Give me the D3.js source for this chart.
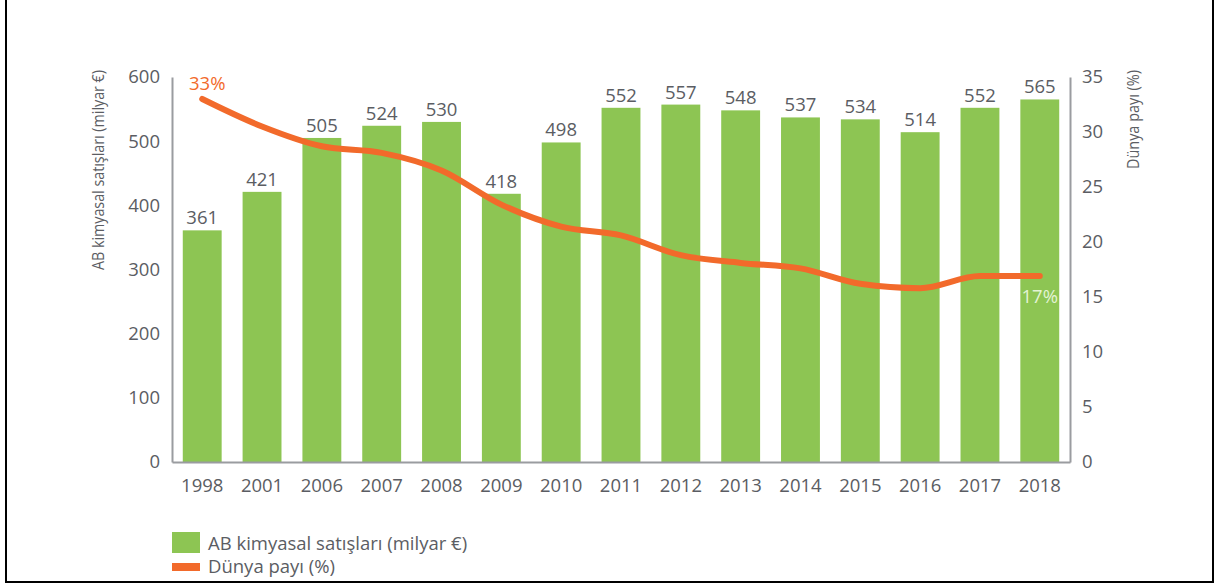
<!DOCTYPE html>
<html>
<head>
<meta charset="utf-8">
<script src="https://cdn.jsdelivr.net/npm/d3@7"></script>
<style>
  body { margin: 0; background: #fff; }
  svg text { font-family: "Open Sans", sans-serif; }
</style>
</head>
<body>
<div id="chart"></div>
<script>
// data
var years = ["1998", "2001", "2006", "2007", "2008", "2009", "2010", "2011", "2012", "2013", "2014", "2015", "2016", "2017", "2018"];
var sales = [361, 421, 505, 524, 530, 418, 498, 552, 557, 548, 537, 534, 514, 552, 565];
var share = [33, 30.5, 28.7, 28.1, 26.5, 23.4, 21.4, 20.6, 18.8, 18.1, 17.6, 16.2, 15.8, 16.9, 16.9];
var leftTicks = [0, 100, 200, 300, 400, 500, 600];
var rightTicks = [0, 5, 10, 15, 20, 25, 30, 35];

var width = 1215, height = 584;
var green = "#8dc553", orange = "#f26a2b", grey = "#5b5d63", axisGrey = "#9a9ca0";
var fs = 18.5;

var svg = d3.select("#chart").append("svg")
    .attr("width", width)
    .attr("height", height);

// frame (left, right, bottom only)
svg.append("path")
    .attr("d", "M6,0 V582 H1213 V0")
    .attr("fill", "none")
    .attr("stroke", "#000")
    .attr("stroke-width", 2);

var x = d3.scaleBand().domain(years).range([172, 1070]).paddingInner(0.35).paddingOuter(0.18);
var yLeft = d3.scaleLinear().domain([0, 600]).range([462, 77]);
var yRight = d3.scaleLinear().domain([0, 35]).range([462, 77]);

// bars
svg.selectAll(".bar")
    .data(sales)
    .enter().append("rect")
    .attr("class", "bar")
    .attr("x", function (d, i) { return x(years[i]); })
    .attr("y", function (d) { return yLeft(d); })
    .attr("width", x.bandwidth())
    .attr("height", function (d) { return yLeft(0) - yLeft(d); })
    .attr("fill", green);

// bar value labels
svg.selectAll(".barLabel")
    .data(sales)
    .enter().append("text")
    .attr("class", "barLabel")
    .attr("x", function (d, i) { return x(years[i]) + x.bandwidth() / 2; })
    .attr("y", function (d) { return yLeft(d) - 6; })
    .attr("text-anchor", "middle")
    .attr("font-size", fs)
    .attr("fill", grey)
    .text(function (d) { return d; });

// axes
var leftAxis = svg.append("g")
    .attr("transform", "translate(172,0)")
    .call(d3.axisLeft(yLeft).tickValues(leftTicks).tickSize(0).tickPadding(12));
var rightAxis = svg.append("g")
    .attr("transform", "translate(1070,0)")
    .call(d3.axisRight(yRight).tickValues(rightTicks).tickSize(0).tickPadding(12));
var bottomAxis = svg.append("g")
    .attr("transform", "translate(0,462)")
    .call(d3.axisBottom(x).tickSize(0).tickPadding(17));

[leftAxis, rightAxis, bottomAxis].forEach(function (g) {
    g.select(".domain").attr("stroke", axisGrey).attr("stroke-width", 2);
    g.selectAll("text")
        .attr("font-size", fs)
        .attr("fill", grey)
        .style("font-family", "'Open Sans', sans-serif");
});

// axis titles
svg.append("text")
    .attr("transform", "translate(104,70) rotate(-90)")
    .attr("text-anchor", "end")
    .attr("font-size", 17)
    .attr("fill", grey)
    .attr("textLength", 200)
    .attr("lengthAdjust", "spacingAndGlyphs")
    .text("AB kimyasal satışları (milyar €)");

svg.append("text")
    .attr("transform", "translate(1139,70) rotate(-90)")
    .attr("text-anchor", "end")
    .attr("font-size", 17)
    .attr("fill", grey)
    .attr("textLength", 99)
    .attr("lengthAdjust", "spacingAndGlyphs")
    .text("Dünya payı (%)");

// share line
var line = d3.line()
    .x(function (d, i) { return x(years[i]) + x.bandwidth() / 2; })
    .y(function (d) { return yRight(d); })
    .curve(d3.curveMonotoneX);

svg.append("path")
    .datum(share)
    .attr("d", line)
    .attr("fill", "none")
    .attr("stroke", orange)
    .attr("stroke-width", 6)
    .attr("stroke-linecap", "round")
    .attr("stroke-linejoin", "round");

// end labels
svg.append("text")
    .attr("x", x(years[0]) + x.bandwidth() / 2 + 5)
    .attr("y", yRight(share[0]) - 9)
    .attr("text-anchor", "middle")
    .attr("font-size", fs)
    .attr("fill", orange)
    .text(share[0] + "%");

svg.append("text")
    .attr("x", x(years[14]) + x.bandwidth() / 2)
    .attr("y", yRight(share[14]) + 27)
    .attr("text-anchor", "middle")
    .attr("font-size", fs)
    .attr("fill", "#e3f3d3")
    .text(Math.round(share[14]) + "%");

// legend
var legend = svg.append("g");
legend.append("rect")
    .attr("x", 172).attr("y", 532)
    .attr("width", 28).attr("height", 21)
    .attr("fill", green);
legend.append("rect")
    .attr("x", 172).attr("y", 563)
    .attr("width", 28).attr("height", 8)
    .attr("fill", orange);
legend.append("text")
    .attr("x", 208).attr("y", 550)
    .attr("font-size", fs)
    .attr("fill", grey)
    .text("AB kimyasal satışları (milyar €)");
legend.append("text")
    .attr("x", 208).attr("y", 573)
    .attr("font-size", fs)
    .attr("fill", grey)
    .text("Dünya payı (%)");
</script>
</body>
</html>
